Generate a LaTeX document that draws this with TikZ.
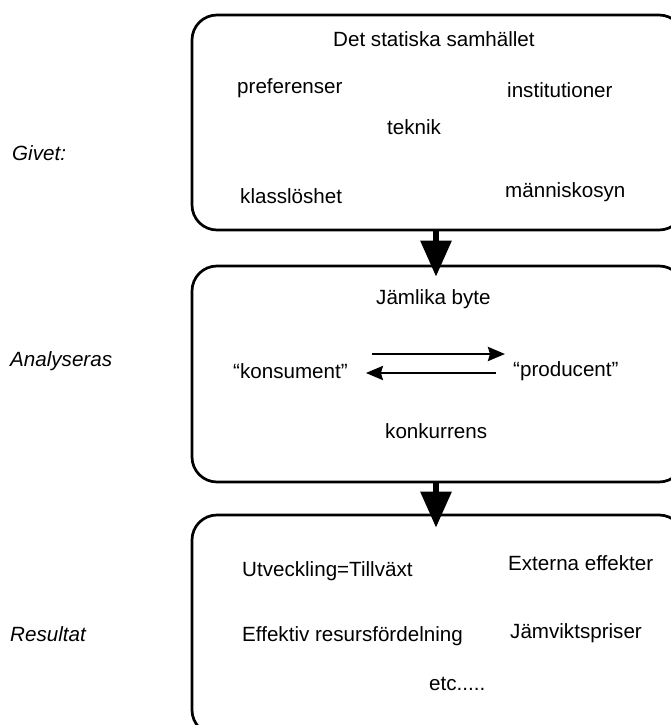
\documentclass[tikz,border=0pt]{standalone}
\usepackage{fontspec}
\setmainfont{Liberation Sans}
\usetikzlibrary{arrows.meta}

\begin{document}
\begin{tikzpicture}[x=1pt, y=-1pt,
  box/.style={draw, line width=2.7pt, rounded corners=25pt, minimum width=492pt, inner sep=0pt},
  txt/.style={font=\fontsize{20.6}{24}\selectfont, inner sep=0pt, anchor=base west},
  side/.style={font=\fontsize{20.6}{24}\selectfont\itshape, inner sep=0pt, anchor=base west},
  big/.style={line width=6pt, -{Triangle[width=30pt,length=36pt]}},
  flow/.style={line width=2.6pt, -{Stealth[width=14pt,length=17pt,inset=2pt]}}]

\useasboundingbox (0,0) rectangle (671,725);
\clip (0,0) rectangle (671,725);

\node[box, minimum height=215pt] (giv) at (438,122.5) {};
\node[box, minimum height=216pt] (ana) at (438,374) {};
\node[box, minimum height=220pt] (res) at (438,625) {};

\node[side] (lgiv) at (12,160) {Givet:};
\node[side] (lana) at (10,366) {Analyseras};
\node[side] (lres) at (10,641) {Resultat};

\node[txt] (det) at (333,47) {Det statiska samhället};
\node[txt] (pref) at (237,93) {preferenser};
\node[txt] (inst) at (507,97) {institutioner};
\node[txt] (tek) at (387,134) {teknik};
\node[txt] (klass) at (240,203) {klasslöshet};
\node[txt] (mann) at (505,197) {människosyn};

\node[txt] (jam) at (376,304) {Jämlika byte};
\node[txt] (kons) at (233,378) {“konsument”};
\node[txt] (prod) at (513,376) {“producent”};
\node[txt] (konk) at (385,438) {konkurrens};

\node[txt] (utv) at (242,576) {Utveckling=Tillväxt};
\node[txt] (ext) at (508,570) {Externa effekter};
\node[txt] (eff) at (242,641) {Effektiv resursfördelning};
\node[txt] (jvp) at (510,638) {Jämviktspriser};
\node[txt] (etc) at (429,690) {etc.....};

\draw[big] ([xshift=-2pt]giv.south) -- ([xshift=-2pt, yshift=-12pt]ana.north); %giv-ana
\draw[big] ([xshift=-2pt]ana.south) -- ([xshift=-2pt, yshift=-14pt]res.north); %ana-res

\draw[flow] ([shift={(24,-24)}]kons.base east) -- ([shift={(-8,-22)}]prod.base west); %kons-prod
\draw[flow] ([shift={(-17,-3)}]prod.base west) -- ([shift={(18,-5)}]kons.base east); %prod-kons

\end{tikzpicture}
\end{document}
